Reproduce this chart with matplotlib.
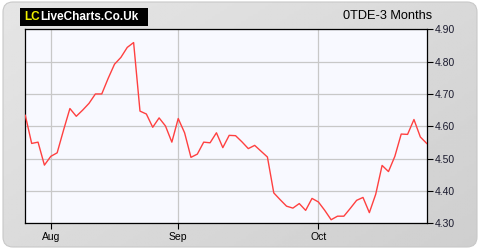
import numpy as np
import matplotlib
matplotlib.use("Agg")
import matplotlib.pyplot as plt
from matplotlib.patches import FancyBboxPatch

# price series (one point per trading day)
prices = [4.634, 4.547, 4.551, 4.480, 4.507, 4.518, 4.588, 4.655, 4.631, 4.650,
          4.671, 4.700, 4.700, 4.748, 4.792, 4.813, 4.844, 4.859, 4.647, 4.638,
          4.597, 4.626, 4.601, 4.551, 4.624, 4.580, 4.504, 4.514, 4.551, 4.549,
          4.580, 4.534, 4.572, 4.571, 4.552, 4.531, 4.541, 4.523, 4.505, 4.394,
          4.373, 4.353, 4.347, 4.361, 4.340, 4.377, 4.366, 4.340, 4.311, 4.322,
          4.322, 4.346, 4.371, 4.380, 4.333, 4.390, 4.479, 4.460, 4.507, 4.576,
          4.575, 4.621, 4.567, 4.547]
month_pos = [4, 24, 46]
month_labels = ["Aug", "Sep", "Oct"]
yticks = [4.30, 4.40, 4.50, 4.60, 4.70, 4.80, 4.90]

plt.rcParams['font.family'] = ['Liberation Sans', 'DejaVu Sans']

fig = plt.figure(figsize=(4.8, 2.5), dpi=100)
fig.patch.set_facecolor('white')

# background panel with a soft grey gradient and rounded corners
bg = fig.add_axes([0, 0, 1, 1])
bg.set_xlim(0, 480)
bg.set_ylim(250, 0)
bg.axis('off')
gx = np.linspace(0, 1, 200)
gy = np.linspace(0, 1, 100)
GX, GY = np.meshgrid(gx, gy)
grad = 0.90 - 0.05 * GX - 0.04 * GY
im = bg.imshow(grad, extent=[0, 480, 250, 0], cmap='gray', vmin=0, vmax=1,
               aspect='auto', zorder=0)
panel = FancyBboxPatch((3, 2), 474, 245, boxstyle="round,pad=0,rounding_size=10",
                       transform=bg.transData, facecolor='none', edgecolor='#c8c8c8',
                       lw=0.8, zorder=1)
bg.add_patch(panel)
im.set_clip_path(panel)

# logo
bg.add_patch(plt.Rectangle((20, 8), 128, 17.5, facecolor='black', zorder=2))
bg.text(24, 17, "LC", color='#f0f000', fontsize=8.5, fontweight='bold',
        va='center', ha='left', zorder=3)
bg.text(40, 17, "LiveCharts.Co.Uk", color='white', fontsize=8.5, fontweight='bold',
        va='center', ha='left', zorder=3)
bg.text(432, 16, "0TDE-3 Months", color='black', fontsize=9.2,
        va='center', ha='right', zorder=3)

ax = fig.add_axes([25.3 / 480, 1 - 223.3 / 250, (426.7 - 25.3) / 480, (223.3 - 29.3) / 250])
ax.set_facecolor('#f8f9ff')
x = np.arange(len(prices))
ax.plot(x, prices, color='#ff4040', lw=1.0, zorder=3)
ax.set_xlim(0, len(prices) - 1)
ax.set_ylim(4.30, 4.90)

ax.set_yticks(yticks)
ax.set_yticklabels(["%.2f" % v for v in yticks])
ax.yaxis.tick_right()
ax.set_xticks(month_pos)
ax.set_xticklabels(month_labels)
ax.tick_params(axis='both', direction='out', length=4, width=0.8, labelsize=7.5,
               colors='black', pad=2)
ax.tick_params(axis='y', labelcolor='#1a1a2e')
ax.grid(True, color='#c8c8c8', lw=0.9)
ax.set_axisbelow(True)
for s in ax.spines.values():
    s.set_color('black')
    s.set_linewidth(0.9)

fig.savefig('out.png', dpi=100)
